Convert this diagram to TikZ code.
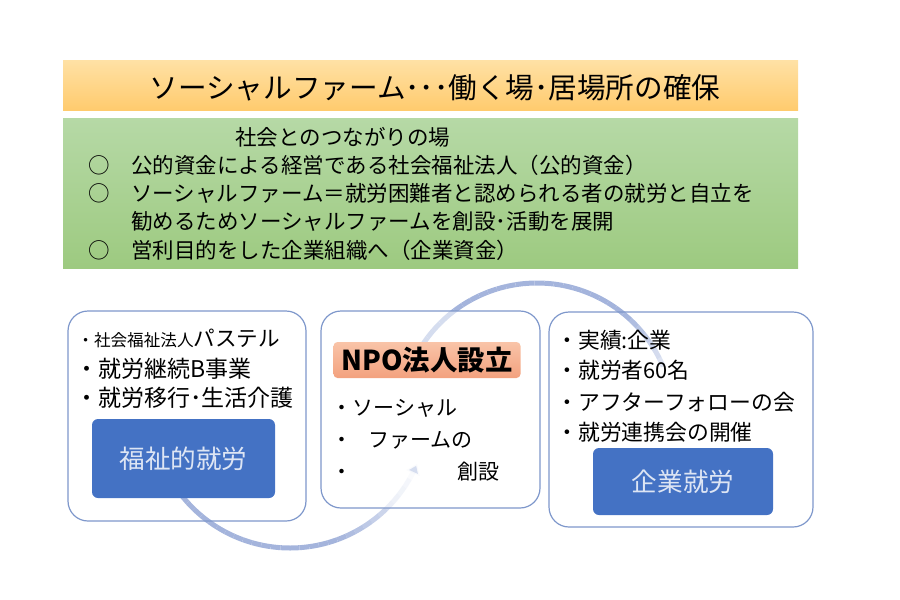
\documentclass[tikz,border=0pt]{standalone}
\usepackage{fontspec}
\setmainfont{Noto Sans CJK JP}
\usetikzlibrary{arrows.meta}
\definecolor{bandTop}{HTML}{FFE1A5}
\definecolor{bandBot}{HTML}{FFCB6E}
\definecolor{greenTop}{HTML}{B6D9A6}
\definecolor{greenBot}{HTML}{9DCA80}
\definecolor{npoTop}{HTML}{F9C4A8}
\definecolor{npoBot}{HTML}{F3A17E}
\definecolor{panelline}{HTML}{7E97CB}
\definecolor{boxblue}{HTML}{4472C4}
\definecolor{boxtext}{HTML}{DDE5F4}
\definecolor{ringblue}{HTML}{A4B4DC}

\begin{document}
\begin{tikzpicture}[x=0.5pt,y=-0.5pt,
    every node/.style={inner sep=0pt},
    panel/.style={draw=panelline, line width=0.6pt, rounded corners=10pt},
    bluebox/.style={fill=boxblue, rounded corners=3pt, text=boxtext,
      font=\fontsize{12.8}{15}\selectfont},
    greenline/.style={anchor=west, font=\fontsize{10.75}{13}\selectfont},
    bullet/.style={anchor=west, font=\fontsize{10.9}{13}\selectfont},
    ringline/.style={line width=2.5pt, draw=ringblue}]
  \useasboundingbox (0,0) rectangle (900,600);

  % title band and green band
  \node[minimum width=367.5pt, minimum height=25pt, top color=bandTop, bottom color=bandBot] (band) at (430.5,85) {};
  \node[font=\fontsize{14.3}{16}\selectfont] (title) at (435,88) {ソーシャルファーム･･･働く場･居場所の確保};
  \node[minimum width=367.5pt, minimum height=75pt, top color=greenTop, bottom color=greenBot] (green) at (430.5,193) {};
  \node[greenline] (place) at (235,137) {社会とのつながりの場};
  \node[greenline] (pub) at (88,165) {○　公的資金による経営である社会福祉法人（公的資金）};
  \node[greenline] (farm) at (88,193) {○　ソーシャルファーム＝就労困難者と認められる者の就労と自立を};
  \node[greenline] (farm2) at (88,221) {　　勧めるためソーシャルファームを創設･活動を展開};
  \node[greenline] (corp) at (88,250) {○　営利目的をした企業組織へ（企業資金）};

  % rings behind the panels
  \foreach \i in {0,...,29} {
    \pgfmathsetmacro\aA{150-4*\i}
    \pgfmathsetmacro\aB{\aA-4}
    \pgfmathsetmacro\op{min(1,max(0.08,(\aA-22)/50))}
    \draw[ringline, draw opacity=\op] plot[domain=\aA:\aB, samples=4] ({290+138*cos(\x)},{410+138*sin(\x)});
  }
  \draw[ringline, draw opacity=0.12, -{Triangle[length=5pt,width=7pt]}] plot[domain=30:23, samples=5] ({290+138*cos(\x)},{410+138*sin(\x)});
  \foreach \i in {0,...,32} {
    \pgfmathsetmacro\aA{205+4*\i}
    \pgfmathsetmacro\aB{\aA+4}
    \pgfmathsetmacro\op{min(1,max(0.06,(348-\aA)/40))}
    \draw[ringline, draw opacity=\op] plot[domain=\aA:\aB, samples=4] ({537+137*cos(\x)},{420+137*sin(\x)});
  }

  % left panel
  \node[panel, minimum width=119pt, minimum height=105pt] (welfare) at (187,416) {};
  \node[bullet, font=\fontsize{10.8}{13}\selectfont] (pastel) at (77,338) {{\fontsize{8.3}{10}\selectfont ・社会福祉法人}パステル};
  \node[bullet, font=\fontsize{11.5}{13}\selectfont] (typeB) at (75,369) {・就労継続B事業};
  \node[bullet, font=\fontsize{11.5}{13}\selectfont] (shift) at (75,398) {・就労移行･生活介護};
  \node[bluebox, minimum width=91.5pt, minimum height=39.5pt] (welfarejob) at (183.5,458.5) {福祉的就労};

  % middle panel
  \node[panel, fill=white, fill opacity=0.55, minimum width=109.5pt, minimum height=98.5pt] (npo) at (430.5,409.5) {};
  \node[top color=npoTop, bottom color=npoBot, rounded corners=2pt, minimum width=93.5pt, minimum height=18pt,
    font=\bfseries\fontsize{13.7}{16}\selectfont] (npolabel) at (427,360) {NPO法人設立};
  \node[bullet, font=\fontsize{10.5}{13}\selectfont] (social) at (331,408) {・ソーシャル};
  \node[bullet, font=\fontsize{10.5}{13}\selectfont] (firm) at (331,440) {・\hspace{0.75em}ファームの};
  \node[bullet, font=\fontsize{10.5}{13}\selectfont] (found) at (331,472) {・\hspace{5em}創設};

  % right panel
  \node[panel, minimum width=132pt, minimum height=107.5pt] (company) at (681,419.5) {};
  \node[bullet] (record) at (556,340) {・実績:企業};
  \node[bullet] (workers) at (556,370) {・就労者60名};
  \node[bullet] (follow) at (556,402) {・アフターフォローの会};
  \node[bullet] (meeting) at (556,432) {・就労連携会の開催};
  \node[bluebox, minimum width=90pt, minimum height=33.5pt] (companyjob) at (683,481.5) {企業就労};
\end{tikzpicture}
\end{document}
